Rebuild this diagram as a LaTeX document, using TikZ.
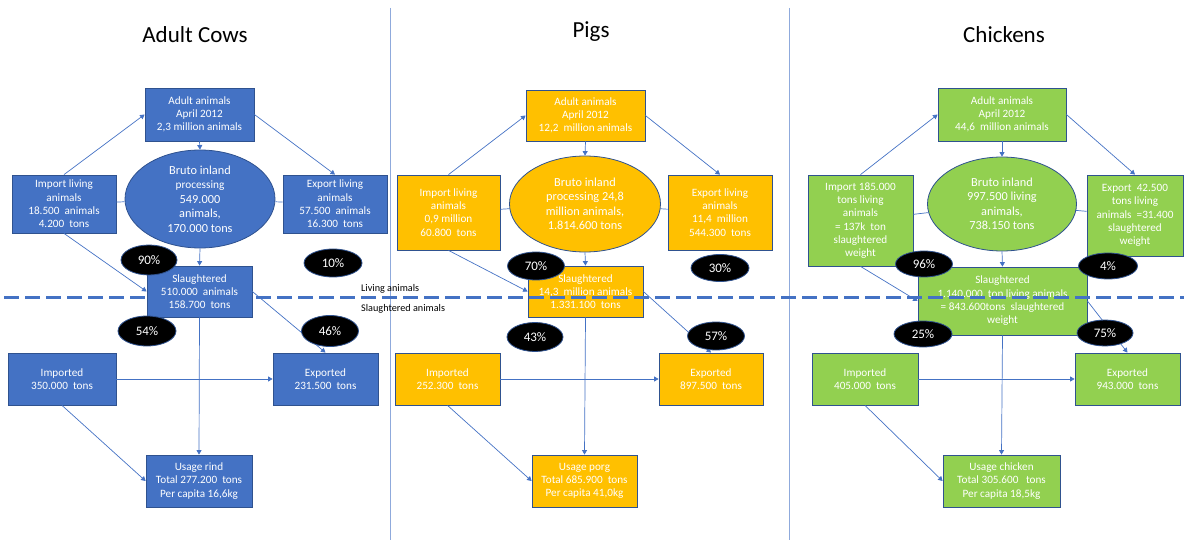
\documentclass[tikz,border=0pt]{standalone}
\usepackage{fontspec}
\setmainfont{Carlito}
\usetikzlibrary{shapes.geometric,arrows.meta}
\definecolor{cowblue}{HTML}{4472C4}
\definecolor{edgeblue}{HTML}{2F528F}
\definecolor{pigyellow}{HTML}{FFC000}
\definecolor{chickgreen}{HTML}{92D050}
\definecolor{seplight}{HTML}{8FAADC}
\begin{document}
\begin{tikzpicture}[x=1pt,y=-1pt,
 box/.style={draw=edgeblue, line width=0.8pt, text=white, align=center, inner sep=1pt, font=\fontsize{11.2}{13.3}\selectfont},
 cow/.style={box, fill=cowblue},
 pig/.style={box, fill=pigyellow},
 chick/.style={box, fill=chickgreen},
 bigell/.style={ellipse, draw=edgeblue, line width=0.8pt, inner sep=0pt},
 elltext/.style={text=white, align=center, font=\fontsize{12.3}{14.5}\selectfont},
 pct/.style={ellipse, fill=black, draw=edgeblue, line width=0.8pt, text=white, inner sep=0pt, font=\fontsize{13}{15}\selectfont},
 flow/.style={draw=cowblue, line width=0.7pt, -{Triangle[width=5pt,length=4.5pt]}},
 link/.style={draw=cowblue, line width=0.7pt},
 title/.style={font=\fontsize{23}{27}\selectfont, text=black, anchor=base, inner sep=0pt},
 sep/.style={draw=seplight, line width=0.9pt},
 tag/.style={font=\fontsize{10.2}{12}\selectfont, anchor=west, text=black, inner sep=0pt},
 divider/.style={draw=cowblue, line width=3pt, dash pattern=on 15pt off 6pt}
]
\useasboundingbox (0,0) rectangle (1184,540);

% separators
\coordinate (s1a) at (390,8); \coordinate (s1b) at (390,540);
\coordinate (s2a) at (789,8); \coordinate (s2b) at (789,540);
\draw[sep] (s1a) -- (s1b);
\draw[sep] (s2a) -- (s2b);

% titles
\node[title] (tC) at (195,43) {Adult Cows};
\node[title] (tP) at (591,38) {Pigs};
\node[title] (tK) at (1004,43) {Chickens};

% ================= COWS =================
\node[cow, minimum width=109pt, minimum height=53pt] (adultC) at (199.5,114.5) {Adult animals\\April 2012\\2,3 million animals};
\node[bigell, fill=cowblue, minimum width=150pt, minimum height=98pt] (ellC) at (200,199) {};
\node[elltext] (ellCt) at (ellC.center) {Bruto inland\\{\fontsize{11.3}{14.5}\selectfont processing}\\549.000\\animals,\\170.000 tons};
\node[cow, minimum width=104pt, minimum height=58pt] (impC) at (64,204) {Import living\\animals\\18.500\ \ animals\\4.200\ \ tons};
\node[cow, minimum width=104pt, minimum height=58pt] (expC) at (335,204) {Export living\\animals\\57.500\ \ animals\\16.300\ \ tons};
\node[cow, minimum width=105pt, minimum height=51pt] (slC) at (199.5,291.5) {Slaughtered\\510.000\ \ animals\\158.700\ \ tons};
\node[cow, minimum width=108pt, minimum height=52pt] (imdC) at (62,379) {Imported\\350.000\ \ tons};
\node[cow, minimum width=105pt, minimum height=52pt] (exdC) at (325.5,379) {Exported\\231.500\ \ tons};
\node[cow, minimum width=106pt, minimum height=52pt] (useC) at (199,481) {Usage rind\\Total 277.200\ \ tons\\Per capita 16,6kg};

\draw[link] (impC) -- (ellC);
\draw[link] (ellC) -- (expC);
\draw[flow] (impC.north) -- (adultC.west);
\draw[flow] (adultC.east) -- (expC.north);
\draw[flow] (adultC.south) -- (ellC.north);
\draw[flow] (ellC.south) -- (slC.north);
\draw[flow] (impC.south) -- (slC.west);
\draw[flow] (slC.east) -- (exdC.north);
\draw[flow] (slC.south) -- (useC.north);
\draw[flow] (imdC.east) -- (exdC.west);
\draw[flow] (imdC.south) -- (useC.west);

% ================= PIGS =================
\node[pig, minimum width=119pt, minimum height=51pt] (adultP) at (585.5,115.5) {Adult animals\\April 2012\\12,2\ \ million animals};
\node[bigell, fill=pigyellow, minimum width=151pt, minimum height=96pt] (ellP) at (585,204) {};
\node[elltext] (ellPt) at (ellP.center) {Bruto inland\\processing 24,8\\million animals,\\1.814.600 tons};
\node[pig, minimum width=103pt, minimum height=75pt] (impP) at (448.5,212.5) {Import living\\animals\\0,9 million\\60.800\ \ tons};
\node[pig, minimum width=104pt, minimum height=75pt] (expP) at (720,212.5) {Export living\\animals\\11,4\ \ million\\544.300\ \ tons};
\node[pig, minimum width=115pt, minimum height=51pt] (slP) at (585.5,291.5) {Slaughtered\\14,3\ \ million animals\\1.331.100\ \ tons};
\node[pig, minimum width=105pt, minimum height=52pt] (imdP) at (447.5,379) {Imported\\252.300\ \ tons};
\node[pig, minimum width=104pt, minimum height=52pt] (exdP) at (711,379) {Exported\\897.500\ \ tons};
\node[pig, minimum width=105pt, minimum height=52pt] (useP) at (584.5,481) {Usage porg\\Total 685.900\ \ tons\\Per capita 41,0kg};

\draw[link] (impP) -- (ellP);
\draw[link] (ellP) -- (expP);
\draw[flow] (impP.north) -- (adultP.west);
\draw[flow] (adultP.east) -- (expP.north);
\draw[flow] (adultP.south) -- (ellP.north);
\draw[flow] (ellP.south) -- (slP.north);
\draw[flow] (impP.south) -- (slP.west);
\draw[flow] (slP.east) -- (exdP.north);
\draw[flow] (slP.south) -- (useP.north);
\draw[flow] (imdP.east) -- (exdP.west);
\draw[flow] (imdP.south) -- (useP.west);

% ================= CHICKENS =================
\node[chick, minimum width=128pt, minimum height=53pt] (adultK) at (1002,114.5) {Adult animals\\April 2012\\44,6\ \ million animals};
\node[bigell, fill=chickgreen, minimum width=149pt, minimum height=94pt] (ellK) at (1002,204) {};
\node[elltext] (ellKt) at (ellK.center) {Bruto inland\\997.500 living\\animals,\\738.150 tons};
\node[chick, minimum width=105pt, minimum height=91pt] (impK) at (860.5,220.5) {Import 185.000\\tons living\\animals\\= 137k\ \ ton\\slaughtered\\weight};
\node[chick, minimum width=96pt, minimum height=81pt] (expK) at (1135,215.5) {Export\ \ 42.500\\tons living\\animals\ \ =31.400\\slaughtered\\weight};
\node[chick, minimum width=169pt, minimum height=68pt] (slK) at (1002.5,301) {Slaughtered\\1.140.000\ \ ton living animals\\= 843.600tons\ \ slaughtered\\weight};
\node[chick, minimum width=106pt, minimum height=52pt] (imdK) at (865,379) {Imported\\405.000\ \ tons};
\node[chick, minimum width=105pt, minimum height=52pt] (exdK) at (1127.5,379) {Exported\\943.000\ \ tons};
\node[chick, minimum width=117pt, minimum height=52pt] (useK) at (1001.5,481) {Usage chicken\\Total 305.600\ \ \ tons\\Per capita 18,5kg};

\draw[link] (impK) -- (ellK);
\draw[link] (ellK) -- (expK);
\draw[flow] (impK.north) -- (adultK.west);
\draw[flow] (adultK.east) -- (expK.north);
\draw[flow] (adultK.south) -- (ellK.north);
\draw[flow] (ellK.south) -- (slK.north);
\draw[flow] (impK.south) -- (slK.west);
\draw[flow] (slK.east) -- (exdK.north);
\draw[flow] (slK.south) -- (useK.north);
\draw[flow] (imdK.east) -- (exdK.west);
\draw[flow] (imdK.south) -- (useK.west);

% dashed divider
\coordinate (dA) at (4,298); \coordinate (dB) at (1184,298);
\draw[divider] (dA) -- (dB);
\node[tag] (lLiving) at (361,289) {Living animals};
\node[tag] (lSlaught) at (361,309) {Slaughtered animals};

% percentages
\node[pct, minimum width=56pt, minimum height=30pt] (p90) at (149,260) {90\%};
\node[pct, minimum width=58pt, minimum height=28pt] (p10) at (333,263) {10\%};
\node[pct, minimum width=58pt, minimum height=30pt] (p54) at (147,331) {54\%};
\node[pct, minimum width=57pt, minimum height=31pt] (p46) at (330,331) {46\%};
\node[pct, minimum width=57pt, minimum height=28pt] (p70) at (536,266) {70\%};
\node[pct, minimum width=58pt, minimum height=27pt] (p30) at (720,268) {30\%};
\node[pct, minimum width=56pt, minimum height=29pt] (p43) at (535,337) {43\%};
\node[pct, minimum width=57pt, minimum height=28pt] (p57) at (716,336) {57\%};
\node[pct, minimum width=57pt, minimum height=26pt] (p96) at (924,264) {96\%};
\node[pct, minimum width=59pt, minimum height=26pt] (p4) at (1108,266) {4\%};
\node[pct, minimum width=58pt, minimum height=26pt] (p25) at (923,334) {25\%};
\node[pct, minimum width=56pt, minimum height=26pt] (p75) at (1105,333) {75\%};
\end{tikzpicture}
\end{document}
